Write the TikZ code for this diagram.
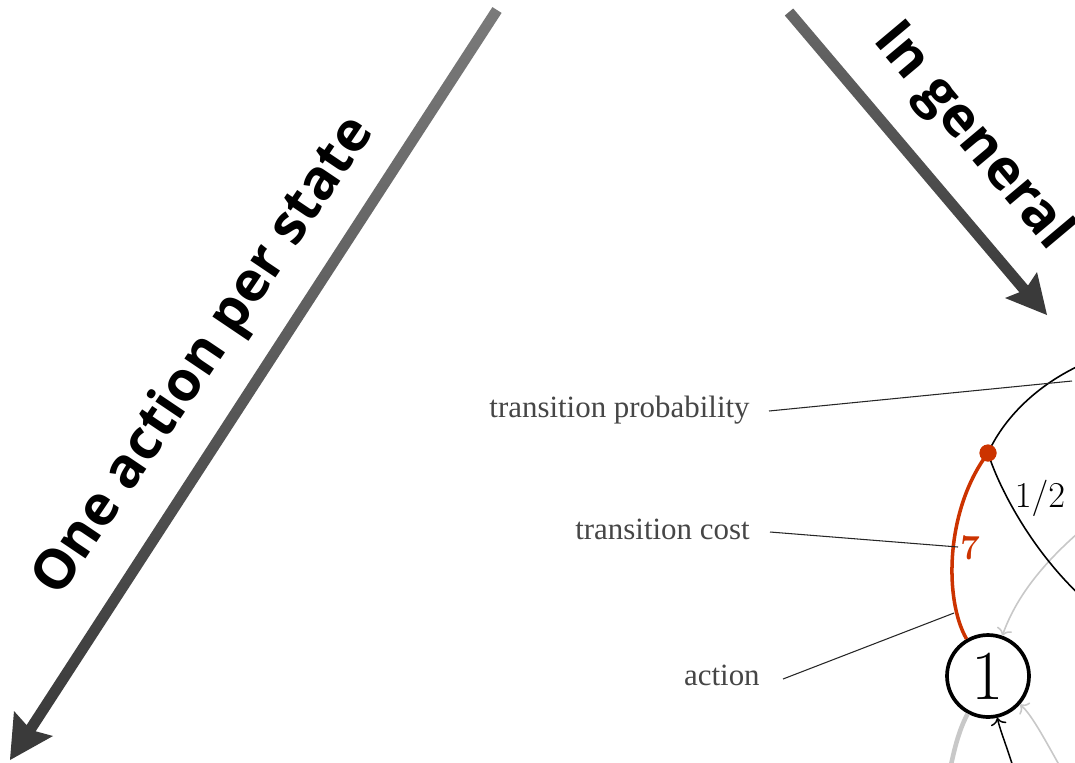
\documentclass[tikz,border=0pt]{standalone}
\usepackage{fontspec}
\newfontfamily\headfont{Open Sans}
\newfontfamily\lblfont{Liberation Serif}
\usetikzlibrary{arrows.meta}
\definecolor{costred}{RGB}{204,51,0}
\definecolor{lightgr}{RGB}{200,200,200}
\definecolor{lblgray}{RGB}{70,70,70}
\definecolor{shaftlight}{RGB}{122,122,122}
\definecolor{shaftdark}{RGB}{58,58,58}
\begin{document}
\begin{tikzpicture}[x=0.02cm,y=-0.02cm,
  headtext/.style={font=\headfont\bfseries\fontsize{31.5}{32}\selectfont, inner sep=0pt},
  lbl/.style={font=\lblfont\fontsize{17.6}{20}\selectfont, text=lblgray, inner sep=0pt, anchor=base east},
  leader/.style={draw=black!85, line width=0.6pt},
  statenode/.style={circle, draw, line width=2.1pt, minimum size=1.64cm, inner sep=0pt, font=\fontsize{40}{40}\selectfont},
  blackcurve/.style={draw=black, line width=0.9pt},
  greyarrow/.style={draw=lightgr, line width=0.9pt, -{To[length=4pt,width=9pt]}},
  blackarrow/.style={draw=black, line width=0.85pt, -{To[length=4pt,width=9pt]}},
  smalltext/.style={inner sep=0pt, font=\fontsize{22}{22}\selectfont}
]
\useasboundingbox (0,0) rectangle (1075,762);
\clip (0,0) rectangle (1075,762);
\fill[white] (0,0) rectangle (1075,762);

% big arrows
\shade[top color=shaftlight, bottom color=shaftdark] (501.6,12.9) -- (492.4,7.1) -- (23.4,730) -- (32.6,736) -- cycle;
\fill[shaftdark] (10,760) -- (14,711) -- (31,730) -- (53,736) -- cycle;
\shade[top color=shaftlight!85!black, bottom color=shaftdark] (793.2,8.5) -- (784.8,15.5) -- (1023.8,297.5) -- (1032.2,290.5) -- cycle;
\fill[shaftdark] (1047,315) -- (1037,272) -- (1025,290) -- (1005,298) -- cycle;

\node[headtext, rotate=56] (lefthead) at (205,357) {One action per state};
\node[headtext, rotate=-50] (righthead) at (972,137) {In general};

% state and action
\node[statenode] (s1) at (988,676) {1};
\node[circle, fill=costred, inner sep=0pt, minimum size=0.34cm] (dot) at (988,453) {};

\coordinate (aend) at (1085,527);
\coordinate (bend) at (1062,770);
\coordinate (cend) at (1014,770);
\coordinate (dend) at (950,770);
\coordinate (upend) at (1085,363);
\coordinate (lowend) at (1085,600);

\draw[greyarrow] (aend) .. controls (1040,565) and (1015,600) .. (s1);
\draw[greyarrow] (bend) .. controls (1045,740) and (1032,715) .. (s1);
\draw[draw=lightgr, line width=2.6pt] (dend) .. controls (955,745) and (960,728) .. (s1);
\draw[blackarrow] (cend) .. controls (1008,750) and (1000,730) .. (s1);

\draw[blackcurve] (dot.center) .. controls (1003,420) and (1035,385) .. (upend);
\draw[blackcurve] (dot.center) .. controls (998,485) and (1030,550) .. (lowend);
\draw[costred, line width=2pt] (s1) .. controls (944,600) and (945,510) .. (dot.center);
\node[circle, fill=costred, inner sep=0pt, minimum size=0.34cm] at (dot) {};

\node[smalltext] (half) at (1040,498) {$1/2$};
\node[inner sep=0pt, text=costred, font=\bfseries\fontsize{20}{20}\selectfont] (cost) at (970,548) {7};

% labels
\node[lbl] (plabel) at (750,417) {transition probability};
\node[lbl] (clabel) at (750,539) {transition cost};
\node[lbl] (alabel) at (760,685) {action};

\coordinate (pstart) at (769,411);
\coordinate (pend) at (1072,381);
\coordinate (cstart) at (770,532);
\coordinate (cendpt) at (958,547);
\coordinate (astart) at (783,679);
\coordinate (aendpt) at (954,613);
\draw[leader] (pstart) -- (pend);
\draw[leader] (cstart) -- (cendpt);
\draw[leader] (astart) -- (aendpt);
\end{tikzpicture}
\end{document}
